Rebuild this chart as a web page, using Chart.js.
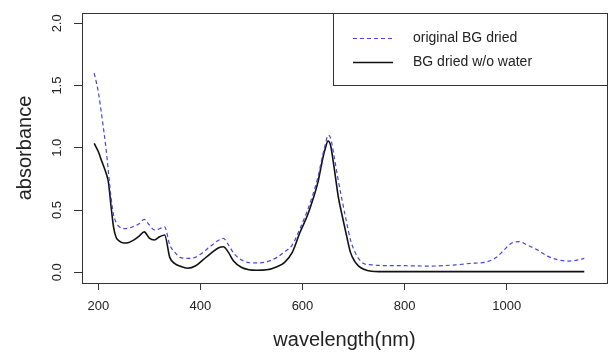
<!DOCTYPE html>
<html>
<head>
<meta charset="utf-8">
<script src="https://cdn.jsdelivr.net/npm/chart.js@4/dist/chart.umd.min.js"></script>
<style>
  html, body { margin: 0; padding: 0; background: #fff; }
  #wrap { width: 613px; height: 352px; }
</style>
</head>
<body>
<div id="wrap"><canvas id="absChart" width="613" height="352"></canvas></div>
<script>
// wavelengths (nm)
const wavelengths = [192, 200, 207, 215, 220, 225, 230, 235, 240, 250, 260, 270, 280, 290, 300, 310, 320, 330,
    340, 350, 360, 375, 390, 405, 420, 435, 445, 455, 465, 480, 495, 510, 530, 550, 565, 580, 595, 610, 620,
    630, 640, 645, 650, 655, 662, 670, 678, 686, 694, 702, 710, 720, 735, 750, 800, 850, 900, 930, 960, 980,
    995, 1010, 1025, 1040, 1060, 1080, 1100, 1120, 1140, 1152];

// original BG dried (blue dashed)
const originalDried = [1.60, 1.45, 1.25, 1.00, 0.80, 0.60, 0.46, 0.40, 0.37, 0.35, 0.355, 0.37, 0.39, 0.425, 0.38, 0.34, 0.35, 0.365,
    0.22, 0.16, 0.12, 0.112, 0.12, 0.16, 0.21, 0.255, 0.273, 0.22, 0.155, 0.10, 0.078, 0.075, 0.085, 0.12, 0.165, 0.22, 0.35, 0.50, 0.62,
    0.76, 0.95, 1.03, 1.10, 1.08, 0.93, 0.74, 0.57, 0.41, 0.26, 0.17, 0.11, 0.07, 0.06, 0.055, 0.053, 0.05, 0.06, 0.072, 0.083, 0.12,
    0.18, 0.235, 0.246, 0.22, 0.18, 0.13, 0.10, 0.09, 0.10, 0.112];

// BG dried w/o water (black solid)
const driedNoWater = [1.035, 0.97, 0.89, 0.80, 0.72, 0.53, 0.36, 0.28, 0.255, 0.235, 0.24, 0.26, 0.29, 0.325, 0.275, 0.26, 0.285, 0.30,
    0.12, 0.07, 0.05, 0.033, 0.05, 0.10, 0.15, 0.195, 0.205, 0.16, 0.09, 0.04, 0.02, 0.016, 0.02, 0.045, 0.08, 0.16, 0.32, 0.46, 0.58,
    0.72, 0.92, 1.00, 1.055, 1.02, 0.84, 0.61, 0.45, 0.30, 0.16, 0.09, 0.05, 0.025, 0.008, 0.005, 0.005, 0.005, 0.005, 0.005, 0.005, 0.005,
    0.005, 0.005, 0.005, 0.005, 0.005, 0.005, 0.005, 0.005, 0.005, 0.005];

const xTicks = [200, 400, 600, 800, 1000];
const yTicks = [0, 0.5, 1.0, 1.5, 2.0];
const seriesLabels = ['original BG dried', 'BG dried w/o water'];

const toPoints = (vals) => vals.map((v, i) => ({ x: wavelengths[i], y: v }));

// box round the plot, rotated y labels and the legend box, drawn like base R
const rStylePlugin = {
    id: 'rStyle',
    afterDraw(chart) {
        const ctx = chart.ctx;
        const a = chart.chartArea;
        ctx.save();
        ctx.strokeStyle = '#333';
        ctx.lineWidth = 1;
        ctx.strokeRect(Math.round(a.left) + 0.5, Math.round(a.top) + 0.5,
            Math.round(a.right - a.left), Math.round(a.bottom - a.top));

        // y tick labels, read bottom to top
        const ys = chart.scales.y;
        ctx.fillStyle = '#222';
        ctx.font = '13px "Liberation Sans", Arial, sans-serif';
        ctx.textAlign = 'center';
        ctx.textBaseline = 'middle';
        yTicks.forEach((t) => {
            const py = ys.getPixelForValue(t);
            ctx.save();
            ctx.translate(57, py);
            ctx.rotate(-Math.PI / 2);
            ctx.fillText(t.toFixed(1), 0, 0);
            ctx.restore();
        });

        // legend
        const lx = 333, ly = 13, lw = a.right - 333, lh = 72;
        ctx.fillStyle = '#fff';
        ctx.fillRect(lx, ly, lw, lh);
        ctx.strokeStyle = '#333';
        ctx.strokeRect(lx + 0.5, ly + 0.5, lw, lh);
        ctx.font = '14px "Liberation Sans", Arial, sans-serif';
        ctx.textAlign = 'left';
        chart.data.datasets.forEach((ds, i) => {
            const yy = 38.5 + i * 24;
            ctx.strokeStyle = ds.borderColor;
            ctx.lineWidth = ds.borderWidth;
            ctx.setLineDash(ds.borderDash || []);
            ctx.beginPath();
            ctx.moveTo(353, yy);
            ctx.lineTo(393, yy);
            ctx.stroke();
            ctx.setLineDash([]);
            ctx.fillStyle = '#222';
            ctx.fillText(ds.label, 413, yy);
        });
        ctx.restore();
    }
};

const chart = new Chart(document.getElementById('absChart'), {
    type: 'line',
    data: {
        datasets: [{
            label: seriesLabels[0],
            data: toPoints(originalDried),
            borderColor: '#4545e0',
            borderWidth: 1.2,
            borderDash: [4, 3],
            pointRadius: 0,
            fill: false,
            cubicInterpolationMode: 'monotone'
        }, {
            label: seriesLabels[1],
            data: toPoints(driedNoWater),
            borderColor: '#111',
            borderWidth: 1.6,
            pointRadius: 0,
            fill: false,
            cubicInterpolationMode: 'monotone'
        }]
    },
    options: {
        responsive: false,
        animation: false,
        events: [],
        layout: { padding: { top: 13, right: 6, left: 0, bottom: 0 } },
        plugins: { legend: { display: false }, tooltip: { enabled: false } },
        scales: {
            x: {
                type: 'linear',
                min: 168.1,
                max: 1196.5,
                afterBuildTicks: (scale) => { scale.ticks = xTicks.map(v => ({ value: v })); },
                afterFit: (scale) => { scale.height = 69; },
                border: { display: false },
                grid: { drawOnChartArea: false, drawTicks: true, tickLength: 7, color: '#333', lineWidth: 1 },
                ticks: {
                    color: '#222',
                    padding: 9,
                    maxRotation: 0,
                    font: { family: '"Liberation Sans", Arial, sans-serif', size: 13 },
                    callback: (v) => String(v)
                },
                title: {
                    display: true,
                    text: 'wavelength(nm)',
                    color: '#222',
                    padding: { top: 0, bottom: 0 },
                    font: { family: '"Liberation Sans", Arial, sans-serif', size: 20 }
                }
            },
            y: {
                type: 'linear',
                min: -0.086,
                max: 2.083,
                afterBuildTicks: (scale) => { scale.ticks = yTicks.map(v => ({ value: v })); },
                afterFit: (scale) => { scale.width = 82; },
                border: { display: false },
                grid: { drawOnChartArea: false, drawTicks: true, tickLength: 8, color: '#333', lineWidth: 1 },
                ticks: { display: false },
                title: {
                    display: true,
                    text: 'absorbance',
                    color: '#222',
                    padding: { top: 13, bottom: 0 },
                    font: { family: '"Liberation Sans", Arial, sans-serif', size: 20 }
                }
            }
        }
    },
    plugins: [rStylePlugin]
});
</script>
</body>
</html>
